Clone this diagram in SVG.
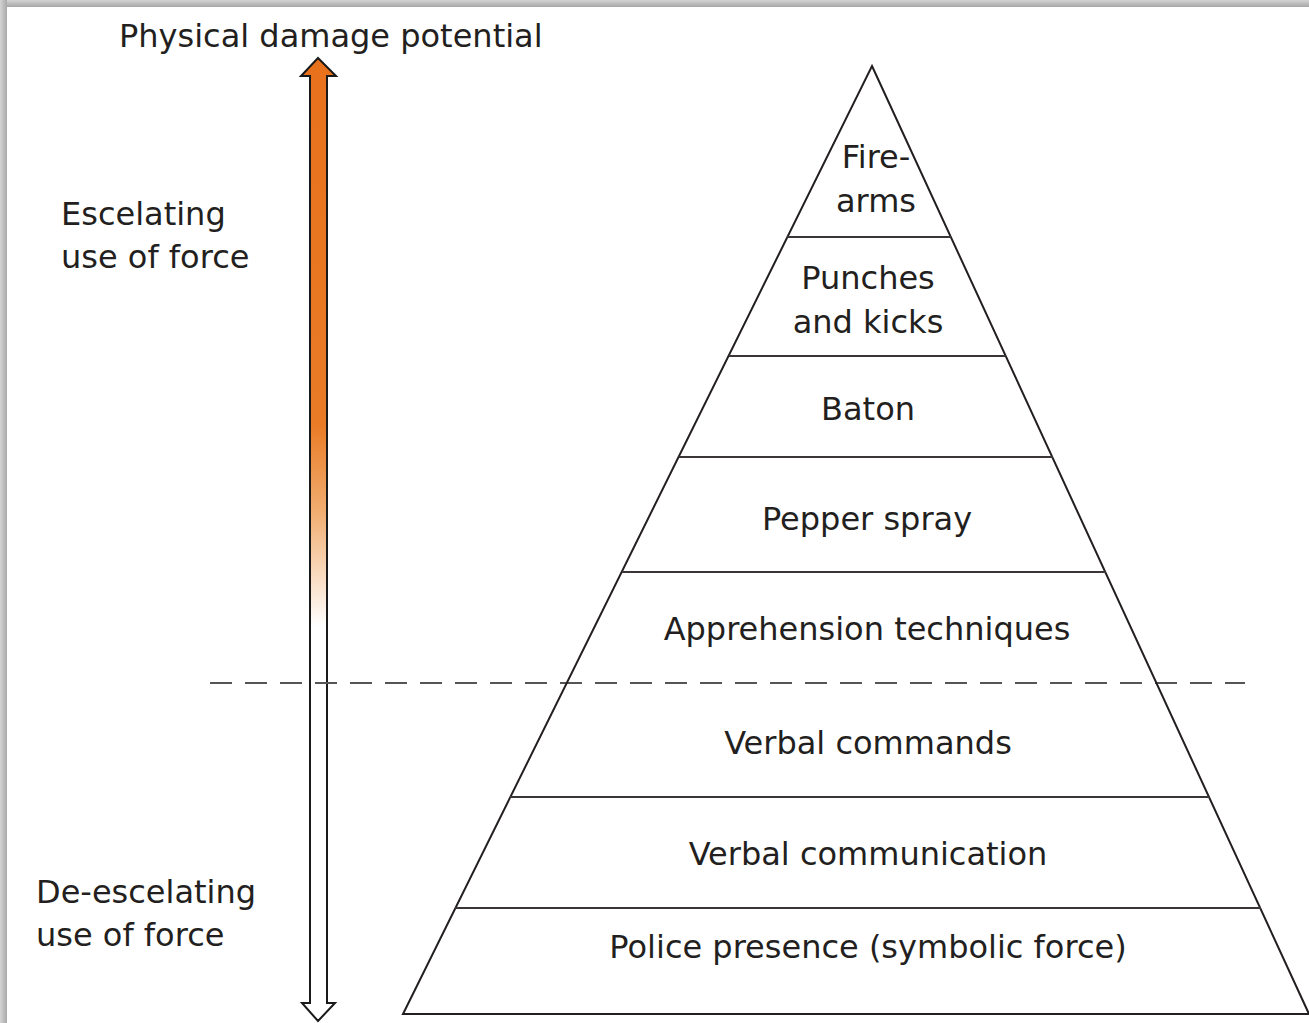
<svg xmlns="http://www.w3.org/2000/svg" width="1309" height="1023" viewBox="0 0 1309 1023">
<defs>
<linearGradient id="shadowTop" x1="0" y1="0" x2="0" y2="1">
<stop offset="0" stop-color="#d4d4d4"/>
<stop offset="1" stop-color="#a6a6a6"/>
</linearGradient>
<linearGradient id="shadowLeft" x1="0" y1="0" x2="1" y2="0">
<stop offset="0" stop-color="#d4d4d4"/>
<stop offset="1" stop-color="#a9a9a9"/>
</linearGradient>
<linearGradient id="force" gradientUnits="userSpaceOnUse" x1="0" y1="58" x2="0" y2="1022">
<stop offset="0" stop-color="#e8711c"/>
<stop offset="0.38" stop-color="#e97b26"/>
<stop offset="0.47" stop-color="#f1ad70"/>
<stop offset="0.59" stop-color="#ffffff"/>
<stop offset="1" stop-color="#ffffff"/>
</linearGradient>
</defs>
<style>
text{font-family:"DejaVu Sans",Verdana,sans-serif;font-size:32px;fill:#231f20}
.c{text-anchor:middle}
.edge{stroke:#231f20;stroke-width:2;fill:none}
.sep{stroke:#3a3637;stroke-width:2}
</style>
<rect x="0" y="0" width="1309" height="1023" fill="#ffffff"/>
<rect x="0" y="0" width="1309" height="7" fill="url(#shadowTop)"/>
<rect x="0" y="0" width="7" height="1023" fill="url(#shadowLeft)"/>

<g id="axis">
<polygon points="318,58 336,76 327,76 327,1003 335,1003 318,1021 302,1003 310,1003 310,76 301,76" fill="url(#force)" stroke="#1a1a1a" stroke-width="2" stroke-linejoin="miter"/>
<text x="119" y="47">Physical damage potential</text>
<text x="61" y="225">Escelating</text>
<text x="61" y="268">use of force</text>
<text x="36" y="903">De-escelating</text>
<text x="36" y="946">use of force</text>
</g>

<g id="connectors">
<line x1="210" y1="683" x2="1245" y2="683" stroke="#555" stroke-width="2" stroke-dasharray="22 13"/>
</g>

<g id="pyramid">
<polygon class="edge" points="872,66 1309,1014 403,1014"/>
<line class="sep" x1="787" y1="237" x2="951" y2="237"/>
<line class="sep" x1="729" y1="356" x2="1006" y2="356"/>
<line class="sep" x1="679" y1="457" x2="1053" y2="457"/>
<line class="sep" x1="622" y1="572" x2="1106" y2="572"/>
<line class="sep" x1="510" y1="797" x2="1210" y2="797"/>
<line class="sep" x1="455" y1="908" x2="1261" y2="908"/>
</g>

<g id="n-firearms"><text class="c" x="876" y="168">Fire-</text><text class="c" x="876" y="212">arms</text></g>
<g id="n-punches"><text class="c" x="868" y="289">Punches</text><text class="c" x="868" y="333">and kicks</text></g>
<g id="n-baton"><text class="c" x="868" y="420">Baton</text></g>
<g id="n-pepper"><text class="c" x="867" y="530">Pepper spray</text></g>
<g id="n-apprehension"><text class="c" x="867" y="640">Apprehension techniques</text></g>
<g id="n-commands"><text class="c" x="868" y="754">Verbal commands</text></g>
<g id="n-communication"><text class="c" x="868" y="865">Verbal communication</text></g>
<g id="n-presence"><text class="c" x="868" y="958">Police presence (symbolic force)</text></g>
</svg>
